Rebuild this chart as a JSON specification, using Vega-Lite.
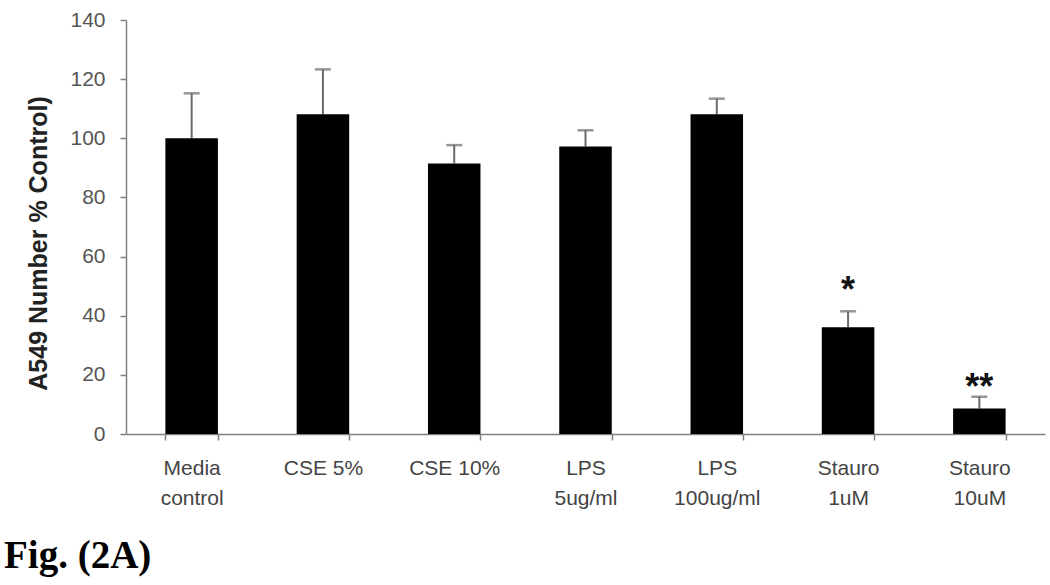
{
  "$schema": "https://vega.github.io/schema/vega-lite/v6.json",
  "width": 919,
  "height": 414,
  "autosize": {"type": "none"},
  "padding": {"left": 126, "top": 20, "right": 5, "bottom": 151},
  "background": "white",
  "config": {"view": {"stroke": null}},
  "title": {
    "text": "Fig. (2A)",
    "orient": "bottom",
    "anchor": "start",
    "frame": "group",
    "dx": -122,
    "offset": 29,
    "font": "Liberation Serif",
    "fontWeight": "bold",
    "fontSize": 39,
    "color": "black"
  },
  "data": {
    "values": [
      {"group": "Media|control", "value": 100, "upper": 115.2},
      {"group": "CSE 5%", "value": 108.1, "upper": 123.3},
      {"group": "CSE 10%", "value": 91.5, "upper": 97.7},
      {"group": "LPS|5ug/ml", "value": 97.2, "upper": 102.7},
      {"group": "LPS|100ug/ml", "value": 108.1, "upper": 113.4},
      {"group": "Stauro|1uM", "value": 36.1, "upper": 41.5, "sig": "*", "sigY": 51.5},
      {"group": "Stauro|10uM", "value": 8.6, "upper": 12.6, "sig": "**", "sigY": 18.6}
    ]
  },
  "encoding": {
    "x": {
      "field": "group",
      "type": "nominal",
      "sort": null,
      "scale": {"paddingInner": 0.6, "paddingOuter": 0.3},
      "axis": {
        "title": null,
        "labelAngle": 0,
        "labelExpr": "split(datum.label, '|')",
        "labelFont": "Liberation Sans",
        "labelFontSize": 21,
        "labelColor": "#444",
        "labelLineHeight": 30,
        "labelPadding": 17,
        "labelBaseline": "top",
        "tickBand": "extent",
        "tickSize": 6,
        "tickColor": "#808080",
        "tickWidth": 1.5,
        "domainColor": "#808080",
        "domainWidth": 1.5
      }
    }
  },
  "layer": [
    {
      "mark": {"type": "rule", "color": "#6a6a6a", "strokeWidth": 2},
      "encoding": {
        "y": {"field": "value", "type": "quantitative"},
        "y2": {"field": "upper"}
      }
    },
    {
      "mark": {"type": "tick", "color": "#6a6a6a", "thickness": 2.5, "size": 16},
      "encoding": {
        "y": {"field": "upper", "type": "quantitative"}
      }
    },
    {
      "mark": {"type": "bar", "color": "black"},
      "encoding": {
        "y": {
          "field": "value",
          "type": "quantitative",
          "scale": {"domain": [0, 140], "nice": false},
          "axis": {
            "values": [0, 20, 40, 60, 80, 100, 120, 140],
            "grid": false,
            "title": "A549 Number % Control)",
            "titleFont": "Liberation Sans",
            "titleFontSize": 25,
            "titleFontWeight": "bold",
            "titleColor": "#222",
            "titleX": -88,
            "titleY": 223,
            "titleAngle": -90,
            "titleAlign": "center",
            "titleBaseline": "middle",
            "labelFont": "Liberation Sans",
            "labelFontSize": 21,
            "labelColor": "#555",
            "labelPadding": 15,
            "tickSize": 6,
            "tickColor": "#808080",
            "tickWidth": 1.5,
            "domainColor": "#808080",
            "domainWidth": 1.5
          }
        }
      }
    },
    {
      "mark": {"type": "text", "font": "Liberation Sans", "fontWeight": "bold", "fontSize": 36, "color": "#111", "baseline": "middle", "dy": 9},
      "encoding": {
        "y": {"field": "sigY", "type": "quantitative"},
        "text": {"field": "sig"}
      }
    }
  ]
}
